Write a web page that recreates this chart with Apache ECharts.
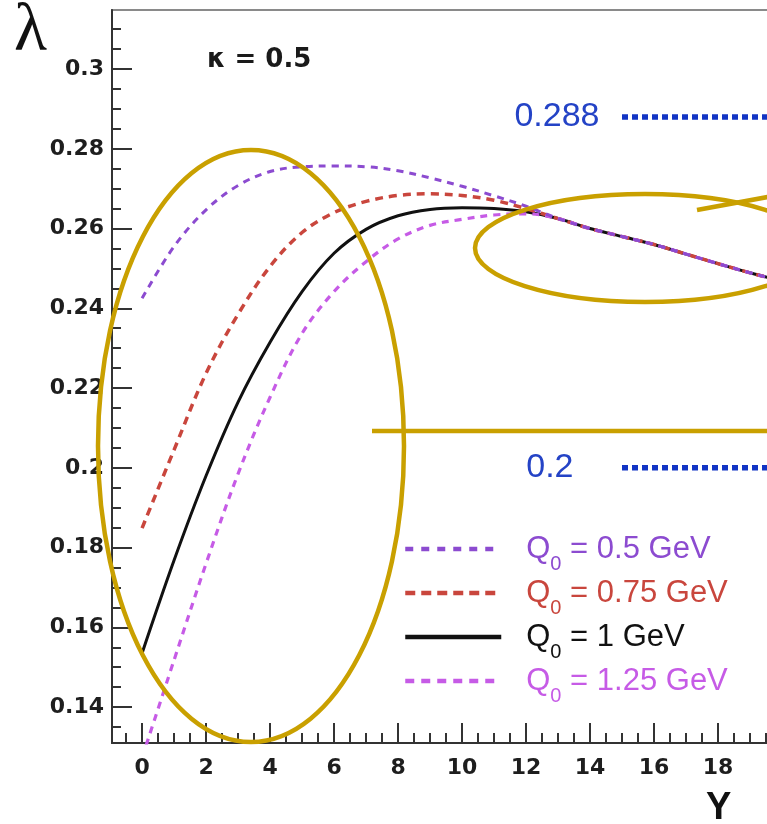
<!DOCTYPE html>
<html>
<head>
<meta charset="utf-8">
<script src="https://cdn.jsdelivr.net/npm/echarts@6/dist/echarts.min.js"></script>
<style>
  html, body { margin: 0; padding: 0; background: #ffffff; }
  #chart { width: 767px; height: 824px; }
</style>
</head>
<body>
<div id="chart"></div>
<script>
// Rapidity grid Y and the intercept lambda(Y) for four starting scales Q0
const xVals = [0, 1, 2, 3, 4, 5, 6, 7, 8, 9, 10, 11, 12, 13, 14, 15, 16, 17, 18, 19, 20, 21];
const lambdaQ05  = [0.2425, 0.2555, 0.2647, 0.2708, 0.2743, 0.2755, 0.2757, 0.2755, 0.2745, 0.2727, 0.2706, 0.2682, 0.2656,
                    0.2625, 0.2600, 0.2580, 0.2560, 0.2536, 0.2512, 0.2489, 0.2468, 0.2447];
const lambdaQ075 = [0.1849, 0.2045, 0.2237, 0.2385, 0.2505, 0.2590, 0.2640, 0.2668, 0.2683, 0.2687, 0.2683, 0.2671, 0.2650,
                    0.2625, 0.2600, 0.2580, 0.2560, 0.2536, 0.2512, 0.2489, 0.2468, 0.2447];
const lambdaQ1   = [0.1535, 0.1768, 0.1980, 0.2165, 0.2315, 0.2442, 0.2538, 0.2598, 0.2632, 0.2648, 0.2652, 0.2650, 0.2642,
                    0.2625, 0.2600, 0.2580, 0.2560, 0.2536, 0.2512, 0.2489, 0.2468, 0.2447];
const lambdaQ125 = [0.1273, 0.1518, 0.1760, 0.1985, 0.2177, 0.2337, 0.2442, 0.2517, 0.2574, 0.2608, 0.2623, 0.2634, 0.2637,
                    0.2625, 0.2600, 0.2580, 0.2560, 0.2536, 0.2512, 0.2489, 0.2468, 0.2447];

// Reference levels drawn as dotted guides on the right
const refLevels = [0.288, 0.2];
const refStartY = 15;
const refEndY = 21;

// Axis ticks
const xMajorTicks = [0, 2, 4, 6, 8, 10, 12, 14, 16, 18, 20];
const xLabelTicks = [0, 2, 4, 6, 8, 10, 12, 14, 16, 18];
const xMinorTicks = [-0.5, 0.5, 1, 1.5, 2.5, 3, 3.5, 4.5, 5, 5.5, 6.5, 7, 7.5, 8.5, 9, 9.5, 10.5, 11, 11.5,
                     12.5, 13, 13.5, 14.5, 15, 15.5, 16.5, 17, 17.5, 18.5, 19, 19.5, 20.5];
const yMajorTicks = [0.14, 0.16, 0.18, 0.2, 0.22, 0.24, 0.26, 0.28, 0.3];
const yMinorTicks = [0.135, 0.145, 0.15, 0.155, 0.165, 0.17, 0.175, 0.185, 0.19, 0.195, 0.205, 0.21, 0.215,
                     0.225, 0.23, 0.235, 0.245, 0.25, 0.255, 0.265, 0.27, 0.275, 0.285, 0.29, 0.295, 0.305, 0.31];

const X_MIN = -0.94, X_MAX = 21;
const Y_MIN = 0.131, Y_MAX = 0.3148;

const curves = [
  { name: 'Q₀ = 1 GeV',    values: lambdaQ1,   color: '#111111', dash: 'solid', legendDash: 'solid', width: 3 },
  { name: 'Q₀ = 0.75 GeV', values: lambdaQ075, color: '#c9463d', dash: [8, 6], legendDash: [10, 6], width: 3.5 },
  { name: 'Q₀ = 1.25 GeV', values: lambdaQ125, color: '#c65be6', dash: [7, 6], legendDash: [9, 7], width: 3.2 },
  { name: 'Q₀ = 0.5 GeV',  values: lambdaQ05,  color: '#8c4bd0', dash: [7, 6], legendDash: [8, 8], width: 3 }
];
const legendOrder = ['Q₀ = 0.5 GeV', 'Q₀ = 0.75 GeV', 'Q₀ = 1 GeV', 'Q₀ = 1.25 GeV'];

const chart = echarts.init(document.getElementById('chart'), null, { renderer: 'canvas' });

const tickFont = { fontFamily: 'DejaVu Sans', fontWeight: 'bold', fontSize: 22, color: '#1e1e1e' };
const hiddenAxisParts = { axisLine: { show: false, onZero: false }, splitLine: { show: false }, axisLabel: { show: false } };

const series = curves.map(c => ({
  type: 'line',
  name: c.name,
  data: xVals.map((x, i) => [x, c.values[i]]),
  smooth: 0.35,
  symbol: 'none',
  clip: true,
  lineStyle: { color: c.color, width: c.width, type: c.dash },
  itemStyle: { color: c.color },
  z: 3
}));

const refLabelGap = [22, 48];
refLevels.forEach((lv, k) => {
  series.push({
    type: 'line',
    name: 'ref' + k,
    data: [
      { value: [refStartY, lv],
        label: { show: true, position: 'left', distance: refLabelGap[k], formatter: String(lv),
                 fontFamily: 'Liberation Sans', fontSize: 34, color: '#2443c6' } },
      [refEndY, lv]
    ],
    symbol: 'rect',
    symbolSize: 1,
    showSymbol: true,
    itemStyle: { color: 'rgba(0,0,0,0)' },
    lineStyle: { color: '#1234c4', width: 5.5, type: [6, 4] },
    z: 2
  });
});

const richLegend = {
  q: { fontFamily: 'Liberation Sans', fontSize: 31, lineHeight: 44, verticalAlign: 'middle' },
  s: { fontFamily: 'Liberation Sans', fontSize: 20, lineHeight: 10, verticalAlign: 'middle', padding: [30, 0, 0, 0] },
  t: { fontFamily: 'Liberation Sans', fontSize: 31, lineHeight: 44, verticalAlign: 'middle' }
};

chart.setOption({
  animation: false,
  backgroundColor: '#ffffff',
  grid: {
    left: 112, top: 10, width: 702, height: 733,
    show: true, borderColor: '#8a8a8a', borderWidth: 2, backgroundColor: '#ffffff',
    containLabel: false, outerBoundsMode: 'none'
  },
  legend: {
    orient: 'vertical',
    left: 398, top: 519,
    itemWidth: 96, itemHeight: 14, itemGap: -6,
    itemStyle: { color: 'rgba(0,0,0,0)', borderColor: 'rgba(0,0,0,0)', borderWidth: 0 },
    lineStyle: { width: 4.5 },
    data: legendOrder.map(n => {
      const c = curves.find(cv => cv.name === n);
      return {
        name: n,
        textStyle: { color: c.color },
        lineStyle: { color: c.color, width: 4.5, type: c.legendDash }
      };
    }),
    formatter: n => '{q|Q}{s|0}{t| ' + n.replace('Q₀ ', '') + '}',
    textStyle: { fontFamily: 'Liberation Sans', fontSize: 31, padding: [0, 0, 0, 20], rich: richLegend },
    selectedMode: false
  },
  xAxis: [
    {
      type: 'value', min: X_MIN, max: X_MAX, position: 'bottom',
      axisLine: { show: true, onZero: false, lineStyle: { color: '#333', width: 2 } },
      axisTick: { show: true, inside: true, length: 20, customValues: xMajorTicks, lineStyle: { color: '#333', width: 2 } },
      axisLabel: { show: true, customValues: xLabelTicks, margin: 14, ...tickFont },
      splitLine: { show: false }
    },
    {
      type: 'value', min: X_MIN, max: X_MAX, position: 'bottom', ...hiddenAxisParts,
      axisTick: { show: true, inside: true, length: 10, customValues: xMinorTicks, lineStyle: { color: '#333', width: 2 } }
    }
  ],
  yAxis: [
    {
      type: 'value', min: Y_MIN, max: Y_MAX, position: 'left',
      axisLine: { show: true, onZero: false, lineStyle: { color: '#333', width: 2 } },
      axisTick: { show: true, inside: true, length: 20, customValues: yMajorTicks, lineStyle: { color: '#333', width: 2 } },
      axisLabel: { show: true, customValues: yMajorTicks, margin: 8, formatter: v => String(+(+v).toFixed(2)), ...tickFont },
      splitLine: { show: false }
    },
    {
      type: 'value', min: Y_MIN, max: Y_MAX, position: 'left', ...hiddenAxisParts,
      axisTick: { show: true, inside: true, length: 9, customValues: yMinorTicks, lineStyle: { color: '#333', width: 2 } }
    }
  ],
  series: series,
  graphic: [
    { type: 'text', left: 14, top: -2, z: 50,
      style: { text: 'λ', font: '68px "Liberation Serif"', fill: '#111' } },
    { type: 'text', left: 207, top: 47, z: 50,
      style: { text: 'κ = 0.5', font: 'bold 26px "DejaVu Sans"', fill: '#1a1a1a' } },
    { type: 'text', left: 706, top: 790, z: 50,
      style: { text: 'Y', font: 'bold 38px "Liberation Sans"', fill: '#111' } },
    // highlighted regions
    { type: 'ellipse', z: 60, shape: { cx: 251, cy: 446, rx: 153, ry: 296 },
      style: { fill: 'none', stroke: '#c9a000', lineWidth: 4.5 } },
    { type: 'ellipse', z: 60, shape: { cx: 645, cy: 248, rx: 170, ry: 54 },
      style: { fill: 'none', stroke: '#c9a000', lineWidth: 4.5 } },
    { type: 'line', z: 60, shape: { x1: 697, y1: 210, x2: 800, y2: 191 },
      style: { stroke: '#c9a000', lineWidth: 4.5 } },
    { type: 'line', z: 60, shape: { x1: 372, y1: 431, x2: 800, y2: 431 },
      style: { stroke: '#c9a000', lineWidth: 4.5 } }
  ]
});
</script>
</body>
</html>
